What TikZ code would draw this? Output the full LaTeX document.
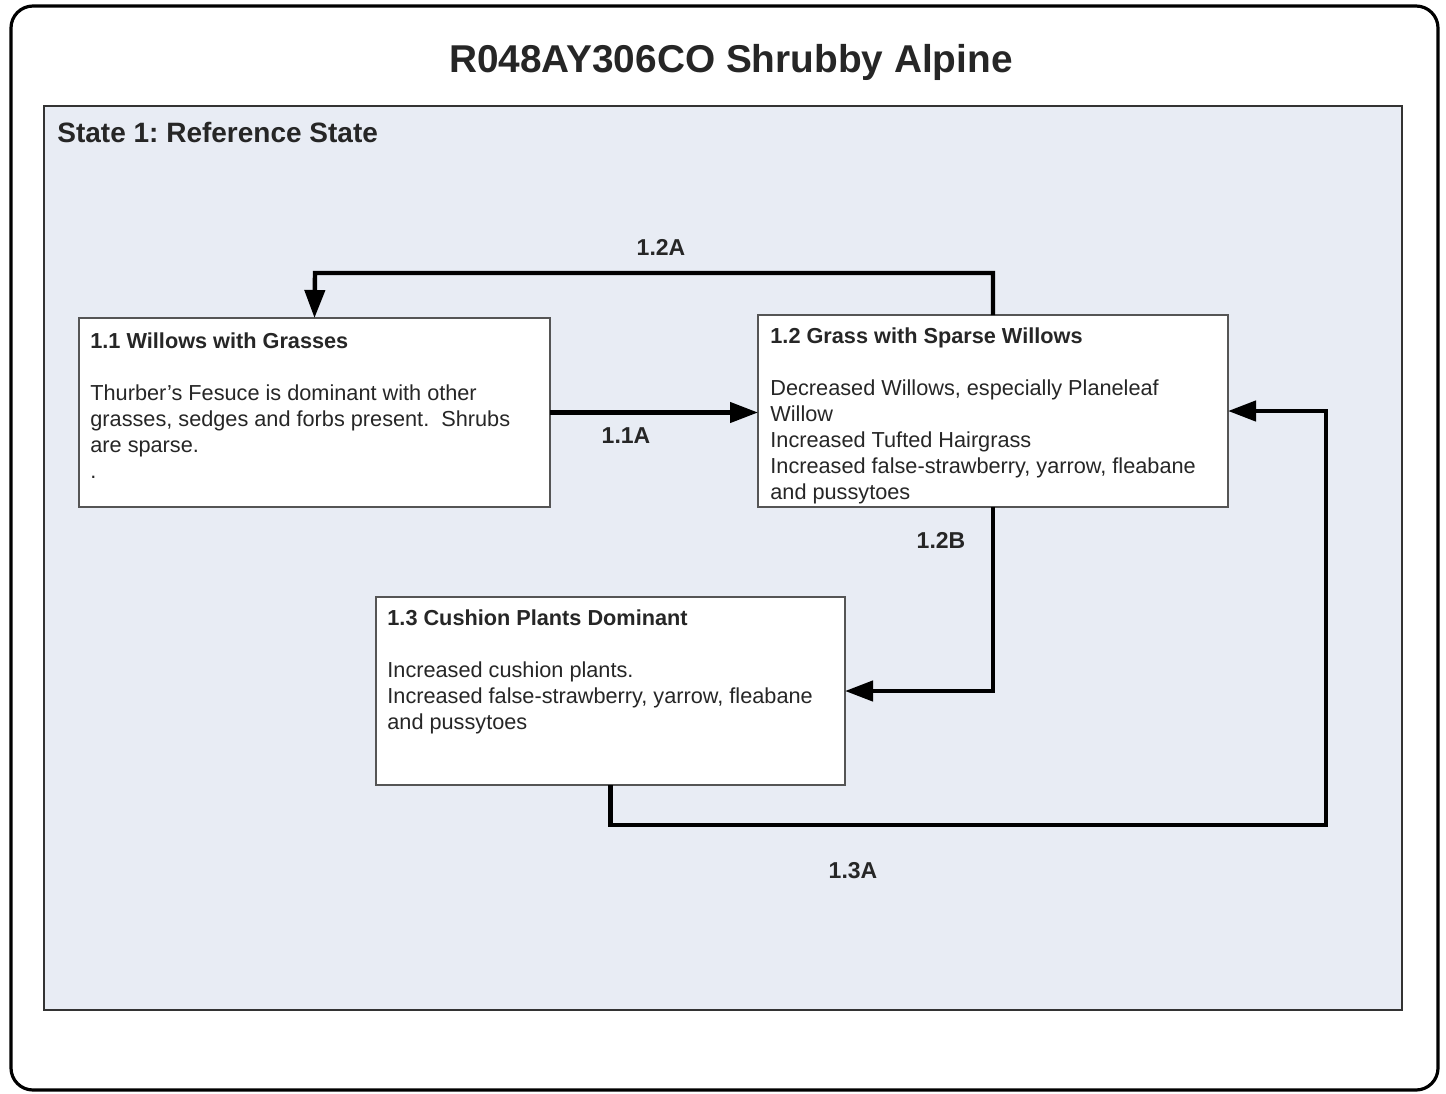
\documentclass[tikz,border=0pt]{standalone}
\usepackage{fontspec}
\setmainfont{Liberation Sans}
\usetikzlibrary{arrows.meta}
\frenchspacing
\definecolor{statefill}{HTML}{E8ECF4}
\definecolor{stateline}{HTML}{333333}
\definecolor{boxline}{HTML}{555555}
\definecolor{txt}{HTML}{262626}
\tikzset{
  statebox/.style={draw=boxline, line width=1pt, fill=white, inner sep=0pt, outer sep=0pt},
  bodytext/.style={anchor=north west, inner sep=0pt, align=left, text=txt,
    font=\fontsize{10.85}{13}\selectfont},
  arr/.style={line width=2.2pt, -{Triangle[length=14pt,width=10pt]}},
  lbl/.style={font=\fontsize{11.5}{13}\selectfont\bfseries, text=txt, inner sep=0pt}
}
\begin{document}
\begin{tikzpicture}[x=0.5pt,y=-0.5pt]
\useasboundingbox (0,0) rectangle (1446,1093);
% outer frame
\draw[line width=1.6pt, rounded corners=11pt] (11,6) rectangle (1438,1090);
\node[font=\fontsize{19.4}{22}\selectfont\bfseries, text=txt] (title) at (731,62) {R048AY306CO Shrubby Alpine};
% state box
\draw[draw=stateline, line width=1.2pt, fill=statefill] (44,106) rectangle (1402,1010);
\node[anchor=base west, inner sep=0pt, font=\fontsize{14}{16}\selectfont\bfseries, text=txt] (state) at (57,142) {State 1: Reference State};
% community boxes
\node[statebox, minimum width=235.5pt, minimum height=94.5pt] (b11) at (314.5,412.5) {};
\node[statebox, minimum width=235pt, minimum height=96pt] (b12) at (993,411) {};
\node[statebox, minimum width=234.5pt, minimum height=94pt] (b13) at (610.5,691) {};
% texts
\node[bodytext] (t11) at (90,332.5) {\textbf{1.1 Willows with Grasses}\\[13pt]
Thurber’s Fesuce is dominant with other\\
grasses, sedges and forbs present.\ \ Shrubs\\
are sparse.\\
.};
\node[bodytext] (t12) at (770,327.5) {\textbf{1.2 Grass with Sparse Willows}\\[13pt]
Decreased Willows, especially Planeleaf\\
Willow\\
Increased Tufted Hairgrass\\
Increased false-strawberry, yarrow, fleabane\\
and pussytoes};
\node[bodytext] (t13) at (387,609.5) {\textbf{1.3 Cushion Plants Dominant}\\[13pt]
Increased cushion plants.\\
Increased false-strawberry, yarrow, fleabane\\
and pussytoes};
% connectors
\coordinate (k1) at (993,273);
\coordinate (k2) at (315,273);
\coordinate (k3) at (1326,825);
\draw[arr] (b12.north) -- (k1) -- (k2) -- (b11.north);
\draw[arr] (b11.east) -- (b11.east -| b12.west);
\draw[arr] (b12.south) |- (b13.east);
\draw[arr] (b13.south) |- (k3) |- (b12.east);
% labels
\node[lbl] (l12a) at (661,247) {1.2A};
\node[lbl] (l11a) at (626,436) {1.1A};
\node[lbl] (l12b) at (941,540) {1.2B};
\node[lbl] (l13a) at (853,871) {1.3A};
\end{tikzpicture}
\end{document}
